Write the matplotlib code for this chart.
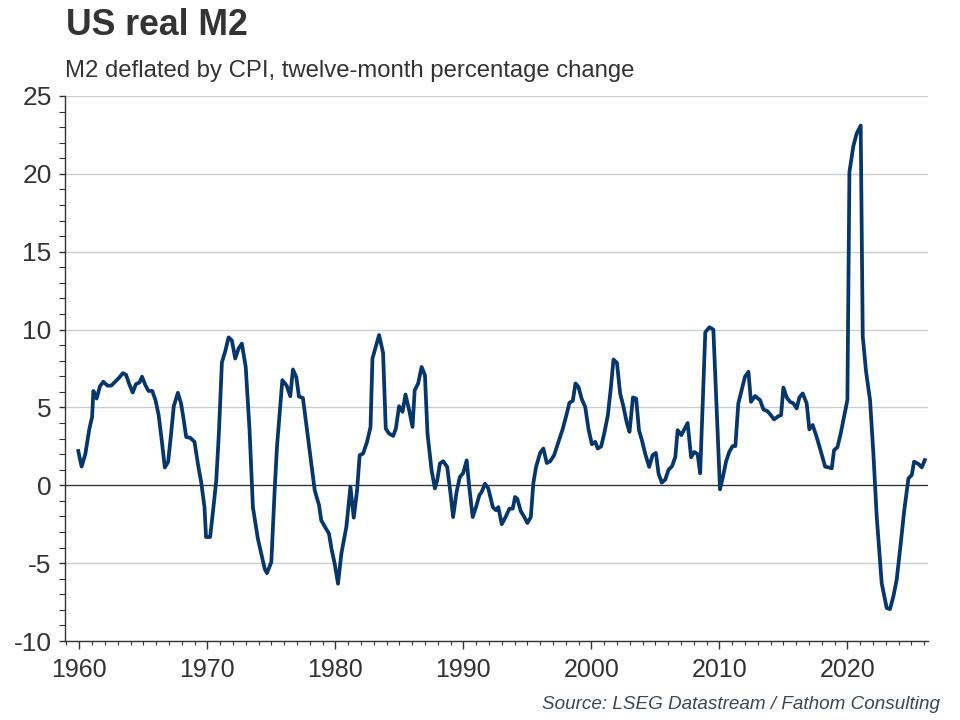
#!/usr/bin/env python3
"""US real M2: M2 deflated by CPI, twelve-month percentage change."""

import matplotlib

matplotlib.use("Agg")
import matplotlib.pyplot as plt
from matplotlib.ticker import MultipleLocator

# values (decimal year, % y/y)
YEARS = [
    1959.92, 1960.18, 1960.47, 1960.78, 1961.0, 1961.1, 1961.35, 1961.62, 1961.88,
    1962.2, 1962.5, 1962.8, 1963.1, 1963.4, 1963.65, 1963.9, 1964.17, 1964.43,
    1964.7, 1964.9, 1965.16, 1965.4, 1965.7, 1965.95, 1966.2, 1966.47, 1966.68,
    1966.94, 1967.17, 1967.38, 1967.7, 1967.95, 1968.14, 1968.35, 1968.66, 1969.0,
    1969.26, 1969.52, 1969.78, 1969.9, 1970.22, 1970.48, 1970.7, 1970.9, 1971.14,
    1971.4, 1971.66, 1971.92, 1972.18, 1972.44, 1972.7, 1973.0, 1973.3, 1973.56,
    1973.95, 1974.22, 1974.48, 1974.66, 1975.0, 1975.26, 1975.44, 1975.86, 1976.2,
    1976.48, 1976.69, 1976.95, 1977.16, 1977.47, 1977.79, 1978.13, 1978.39, 1978.73,
    1978.9, 1979.17, 1979.5, 1979.7, 1979.95, 1980.21, 1980.47, 1980.86, 1981.18,
    1981.44, 1981.7, 1981.9, 1982.17, 1982.48, 1982.75, 1982.9, 1983.16, 1983.42,
    1983.73, 1983.94, 1984.2, 1984.52, 1984.73, 1984.98, 1985.25, 1985.48, 1985.77,
    1986.03, 1986.2, 1986.47, 1986.74, 1987.0, 1987.2, 1987.52, 1987.78, 1987.96,
    1988.17, 1988.43, 1988.74, 1989.0, 1989.2, 1989.47, 1989.73, 1989.99, 1990.26,
    1990.46, 1990.73, 1990.99, 1991.25, 1991.43, 1991.69, 1991.95, 1992.3, 1992.55,
    1992.73, 1993.0, 1993.3, 1993.6, 1993.86, 1994.04, 1994.22, 1994.48, 1994.74,
    1995.0, 1995.27, 1995.47, 1995.68, 1996.0, 1996.25, 1996.52, 1996.78, 1997.09,
    1997.43, 1997.77, 1998.08, 1998.29, 1998.55, 1998.76, 1998.99, 1999.26, 1999.52,
    1999.77, 2000.04, 2000.3, 2000.5, 2000.77, 2001.03, 2001.29, 2001.53, 2001.73,
    2002.0, 2002.25, 2002.51, 2002.78, 2002.98, 2003.25, 2003.5, 2003.72, 2003.95,
    2004.2, 2004.52, 2004.78, 2005.04, 2005.25, 2005.5, 2005.77, 2006.03, 2006.3,
    2006.56, 2006.74, 2007.03, 2007.26, 2007.52, 2007.79, 2008.04, 2008.3, 2008.5,
    2008.9, 2009.22, 2009.53, 2010.05, 2010.31, 2010.52, 2010.78, 2011.04, 2011.25,
    2011.48, 2011.74, 2012.0, 2012.27, 2012.47, 2012.79, 2013.18, 2013.44, 2013.75,
    2013.96, 2014.27, 2014.61, 2014.82, 2015.0, 2015.26, 2015.52, 2015.78, 2016.04,
    2016.25, 2016.51, 2016.82, 2017.03, 2017.29, 2017.55, 2017.86, 2018.26, 2018.52,
    2018.78, 2018.96, 2019.22, 2019.48, 2019.74, 2020.0, 2020.16, 2020.47, 2020.73,
    2021.04, 2021.2, 2021.46, 2021.77, 2022.03, 2022.29, 2022.68, 2023.07, 2023.33,
    2023.59, 2023.85, 2024.17, 2024.43, 2024.77, 2025.03, 2025.21, 2025.55, 2025.81,
    2026.05,
]
REAL_M2 = [
    2.2, 1.2, 2.0, 3.6, 4.4, 6.06, 5.57, 6.37, 6.65,
    6.4, 6.4, 6.65, 6.9, 7.2, 7.1, 6.5, 5.96, 6.5,
    6.6, 6.97, 6.43, 6.06, 6.06, 5.47, 4.5, 2.68, 1.14,
    1.5, 3.3, 5.08, 5.94, 5.25, 4.29, 3.1, 3.05, 2.79,
    1.4, 0.2, -1.4, -3.32, -3.32, -1.4, 0.32, 3.3, 7.9,
    8.6, 9.5, 9.3, 8.14, 8.78, 9.1, 7.6, 3.54, -1.4,
    -3.43, -4.4, -5.36, -5.64, -4.93, -0.32, 2.46, 6.75, 6.4,
    5.72, 7.44, 6.95, 5.7, 5.6, 3.54, 1.4, -0.32, -1.29,
    -2.25, -2.64, -3.1, -4.07, -5.04, -6.32, -4.4, -2.68, -0.1,
    -2.08, -0.32, 1.93, 2.04, 2.79, 3.75, 8.14, 8.9, 9.65,
    8.5, 3.64, 3.32, 3.17, 3.64, 5.08, 4.72, 5.83, 4.82,
    3.75, 6.1, 6.54, 7.6, 7.07, 3.32, 0.96, -0.2, 0.32,
    1.4, 1.54, 1.18, -0.54, -2.04, -0.43, 0.53, 0.79, 1.6,
    -0.1, -2.04, -1.4, -0.64, -0.43, 0.1, -0.2, -1.4, -1.6,
    -1.4, -2.5, -2.04, -1.5, -1.5, -0.75, -0.88, -1.65, -2.0,
    -2.42, -2.04, 0.15, 1.18, 2.08, 2.36, 1.43, 1.54, 1.93,
    2.79, 3.64, 4.6, 5.3, 5.42, 6.54, 6.32, 5.51, 5.04,
    3.64, 2.64, 2.79, 2.36, 2.5, 3.43, 4.5, 6.32, 8.08,
    7.86, 5.9, 5.04, 3.97, 3.43, 5.64, 5.57, 3.54, 2.89,
    2.04, 1.18, 1.93, 2.08, 0.75, 0.17, 0.36, 1.0, 1.22,
    1.82, 3.54, 3.22, 3.58, 4.0, 1.8, 2.14, 2.0, 0.77,
    9.83, 10.15, 10.0, -0.26, 0.66, 1.52, 2.16, 2.52, 2.52,
    5.26, 6.11, 6.97, 7.29, 5.36, 5.73, 5.47, 4.87, 4.76,
    4.57, 4.23, 4.44, 4.5, 6.28, 5.64, 5.36, 5.26, 4.94,
    5.64, 5.9, 5.26, 3.59, 3.87, 3.23, 2.37, 1.2, 1.15,
    1.09, 2.26, 2.44, 3.33, 4.4, 5.47, 20.13, 21.8, 22.6,
    23.1, 9.57, 7.29, 5.47, 2.05, -2.0, -6.28, -7.88, -7.95,
    -7.14, -6.07, -3.72, -1.69, 0.45, 0.66, 1.52, 1.37, 1.15,
    1.62,
]
X_TICKS = [1960, 1970, 1980, 1990, 2000, 2010, 2020]
Y_TICKS = [-10, -5, 0, 5, 10, 15, 20, 25]

TITLE = "US real M2"
SUBTITLE = "M2 deflated by CPI, twelve-month percentage change"
SOURCE = "Source: LSEG Datastream / Fathom Consulting"

LINE_COLOR = "#07366a"
TEXT_COLOR = "#333333"
GRID_COLOR = "#c9cfd0"

plt.rcParams["font.family"] = ["Liberation Sans", "DejaVu Sans"]
plt.rcParams["axes.unicode_minus"] = False

fig = plt.figure(figsize=(9.6, 7.2), dpi=100)
ax = fig.add_axes([0.0682, 0.1097, 0.8985, 0.757])

ax.plot(YEARS, REAL_M2, color=LINE_COLOR, linewidth=2.7, solid_joinstyle="round", zorder=3)
ax.axhline(0, color="#333333", linewidth=0.9, zorder=2)

ax.set_xlim(1958.92, 2026.3)
ax.set_ylim(-10, 25)
ax.set_xticks(X_TICKS)
ax.set_yticks(Y_TICKS)
ax.xaxis.set_minor_locator(MultipleLocator(1))
ax.yaxis.set_minor_locator(MultipleLocator(1))

ax.grid(axis="y", color=GRID_COLOR, linewidth=1.0, zorder=1)
ax.set_axisbelow(True)

for side in ("top", "right"):
    ax.spines[side].set_visible(False)
for side in ("left", "bottom"):
    ax.spines[side].set_color("#333333")
    ax.spines[side].set_linewidth(1.0)

ax.tick_params(axis="x", which="major", direction="out", length=6, width=1,
               color="#333333", labelsize=18, labelcolor=TEXT_COLOR, pad=6)
ax.tick_params(axis="x", which="minor", direction="out", length=3, width=0.8,
               color="#333333")
ax.tick_params(axis="y", which="major", direction="out", length=4, width=1,
               color="#333333", labelsize=19, labelcolor=TEXT_COLOR, pad=6)
ax.tick_params(axis="y", which="minor", direction="out", length=4, width=0.8,
               color="#333333")

fig.text(0.069, 0.965, TITLE, fontsize=25.7, fontweight="bold", color=TEXT_COLOR,
         ha="left", va="center")
fig.text(0.068, 0.902, SUBTITLE, fontsize=17.2, color=TEXT_COLOR, ha="left", va="center")
fig.text(0.979, 0.021, SOURCE, fontsize=13.6, style="italic", color="#3b4652",
         ha="right", va="center")

fig.savefig("out.png", dpi=100)
plt.close(fig)
